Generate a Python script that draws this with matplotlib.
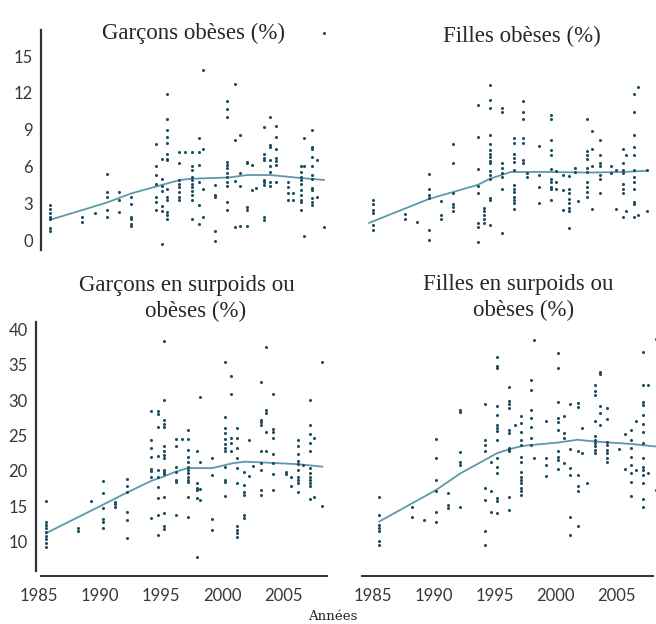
import matplotlib
matplotlib.use('Agg')
import matplotlib.pyplot as plt
from matplotlib.transforms import ScaledTranslation

W, H = 656, 624

annees_ticks = [1985, 1990, 1995, 2000, 2005]

# garcons obeses : (annee, valeurs de la colonne)
go_points = [
    (1985.35, [2.85, 2.5, 2.2, 1.9, 1.7, 1.0, 0.75]),
    (1988, [1.85, 1.5]),
    (1989, [2.2]),
    (1990, [5.4, 3.9, 3.5, 2.45, 1.85]),
    (1991, [3.9, 3.25, 2.3]),
    (1992, [3.5, 2.9, 1.9, 1.75, 1.3, 1.15]),
    (1994, [7.8, 6.0, 5.3, 4.6, 3.5, 3.1, 2.45]),
    (1994.5, [6.6, 5.0, 4.4, 4.0, 2.8, 2.4, -0.3]),
    (1994.95, [11.9, 9.85, 9.0, 8.4, 7.9, 7.0, 6.6, 6.5, 4.2, 3.5, 3.25, 2.3, 2.05, 1.7]),
    (1995.95, [7.2, 6.25, 4.9, 4.6, 4.3, 3.9, 3.5, 3.25]),
    (1996.4, [7.2]),
    (1997, [7.2, 6.0, 5.7, 5.15, 4.9, 4.6, 4.35, 4.0, 3.65, 3.25, 1.7]),
    (1997.6, [8.3, 7.2, 6.1, 4.75, 2.85, 1.3]),
    (1997.9, [13.9, 7.45, 4.2, 1.9]),
    (1998.9, [4.5, 3.65, 3.5, 0.7, -0.05]),
    (1999.9, [11.35, 10.65, 10.0, 6.4, 6.1, 5.85, 5.45, 5.15, 4.7, 4.4, 3.1, 2.45]),
    (2000.5, [12.7, 8.15, 4.85, 1.1]),
    (2000.9, [8.6, 5.45, 4.4, 1.15]),
    (2001.5, [6.4, 6.25, 2.7, 2.45, 1.15]),
    (2001.9, [6.1, 4.1]),
    (2002.2, [4.25]),
    (2002.9, [9.25, 7.05, 6.65, 6.5, 4.9, 4.7, 4.5, 1.9, 1.65]),
    (2003.4, [10.0, 7.75, 7.6, 6.5, 6.0, 5.55, 4.75, 4.4]),
    (2003.9, [9.3, 8.4, 7.45, 6.65, 6.45, 6.1, 4.7]),
    (2004.9, [4.75, 4.3, 3.85, 3.25]),
    (2005.3, [3.85, 3.25]),
    (2005.9, [6.05, 5.55, 5.15, 4.9, 4.55, 4.1, 3.65, 3.25, 3.1, 2.45]),
    (2006.2, [8.3, 6.05, 0.35]),
    (2006.8, [9.0, 7.6, 7.45, 6.75, 6.05, 5.3, 5.0, 4.25, 4.1, 3.4, 3.1, 2.85]),
    (2007.2, [6.5, 3.5]),
    (2007.8, [16.85, 1.05]),
]
go_ligne_x = [1985.35, 1990, 1992, 1996, 1997, 2000, 2001.5, 2003.4, 2006, 2007.8]
go_ligne_y = [1.65, 3.05, 3.8, 4.9, 5.0, 5.1, 5.3, 5.3, 5.05, 4.9]

# filles obeses
fo_points = [
    (1985.4, [3.3, 2.95, 2.45, 2.2, 1.2, 0.85]),
    (1988, [2.1, 1.7]),
    (1989, [1.5]),
    (1990, [5.4, 4.2, 3.65, 3.4, 0.85, 0.0]),
    (1991, [3.2, 2.05, 1.75]),
    (1992, [7.8, 6.3, 3.85, 2.95, 2.7, 2.4]),
    (1994, [11.0, 8.4, 5.8, 4.4, 3.8, 1.4, 1.1, -0.15]),
    (1994.5, [2.65, 2.4, 2.05, 1.75, 1.4]),
    (1995, [12.6, 11.4, 10.8, 8.55, 7.8, 7.35, 7.05, 6.8, 6.45, 6.3, 5.65, 5.3, 5.0, 3.4, 3.25, 1.2]),
    (1996, [10.8, 10.45, 6.25, 5.85, 5.45, 5.15, 4.15, 0.6]),
    (1997, [8.3, 7.9, 7.05, 6.65, 6.4, 5.7, 4.5, 4.2, 3.95, 3.5, 3.25, 3.0, 2.5]),
    (1997.7, [11.35, 10.4, 9.9, 8.3, 7.9, 6.5, 6.25]),
    (1998, [5.45, 5.15]),
    (1999, [7.7, 5.3, 4.3, 3.05]),
    (2000, [10.2, 9.85, 8.15, 7.35, 6.95, 5.8, 5.0, 4.75, 4.35, 4.2, 3.25]),
    (2000.4, [5.65, 4.7, 4.15]),
    (2001, [5.3, 4.1, 2.45]),
    (2001.5, [5.2, 4.2, 3.8, 3.35, 3.0, 2.65, 2.4, 1.0]),
    (2001.95, [5.9, 5.55]),
    (2002.25, [3.2]),
    (2002.95, [9.9, 7.25, 6.95, 6.6, 5.85, 5.55, 4.75, 4.35, 3.95, 3.5]),
    (2003.35, [8.85, 7.4, 6.05, 2.5]),
    (2004, [8.15, 6.95, 6.25, 6.0, 5.3, 5.0, 3.85]),
    (2004.9, [6.05, 5.45]),
    (2005.35, [5.7, 2.5]),
    (2005.9, [7.4, 6.3, 5.7, 5.45, 4.6, 4.2, 3.85, 1.85]),
    (2006.15, [6.95, 2.4]),
    (2006.8, [11.9, 10.4, 8.55, 7.6, 6.95, 5.7, 5.15, 4.75, 4.2, 3.1, 2.95, 1.85]),
    (2007.15, [12.45, 2.05]),
    (2007.85, [5.7, 2.4]),
]
fo_ligne_x = [1985.1, 1990, 1994, 1995, 1996.7, 2000, 2003, 2006, 2007.9]
fo_ligne_y = [1.4, 3.35, 4.5, 5.0, 5.55, 5.55, 5.5, 5.55, 5.65]

# garcons en surpoids ou obeses
gs_points = [
    (1985.35, [15.7, 12.85, 12.4, 11.9, 11.3, 10.8, 10.35, 9.8, 9.2]),
    (1988, [11.9, 11.5]),
    (1989, [15.8]),
    (1990, [18.6, 16.85, 14.7, 13.15, 12.75, 11.9]),
    (1991, [15.65, 15.3, 14.85]),
    (1992, [18.85, 17.9, 16.95, 14.15, 13.1, 10.5]),
    (1994, [28.5, 24.4, 23.2, 21.9, 20.3, 20.0, 19.2, 13.3]),
    (1994.5, [28.4, 28.0, 26.2, 22.15, 20.15, 19.2, 17.7, 16.15, 13.8, 11.0]),
    (1995, [38.3, 30.0, 27.2, 26.65, 26.2, 23.45, 22.75, 22.25, 21.8, 20.15, 19.9, 19.6, 16.3, 14.0, 12.15, 11.75]),
    (1996, [24.5, 23.45, 20.6, 19.8, 18.75, 18.4, 13.8]),
    (1996.5, [24.5]),
    (1997, [25.8, 24.5, 23.0, 22.0, 21.3, 20.6, 20.15, 19.65, 19.2, 18.75, 18.4, 16.35, 13.55]),
    (1997.7, [22.85, 18.25, 17.55, 17.3, 16.15, 7.9]),
    (1997.95, [30.5, 21.2, 17.4, 15.9]),
    (1999, [21.8, 19.35, 13.15, 11.65]),
    (2000, [35.45, 27.55, 26.0, 25.3, 24.5, 23.8, 23.2, 22.75, 20.6, 18.75, 18.4, 16.5]),
    (2000.5, [33.4, 30.85, 24.6, 23.9, 22.75]),
    (2001, [26.0, 24.6, 23.2, 21.8, 20.4, 18.25, 12.15, 11.65, 11.2, 10.7]),
    (2001.6, [19.9, 18.0, 16.95, 16.6, 13.8, 13.3]),
    (2002, [24.3, 19.3]),
    (2002.35, [20.7]),
    (2003, [32.5, 27.2, 26.85, 26.5, 22.75, 21.1, 20.15, 17.3, 16.6]),
    (2003.4, [37.5, 28.6, 28.15, 25.55, 22.85]),
    (2004, [30.85, 25.9, 25.45, 24.6, 22.4, 21.1, 19.6, 17.3]),
    (2005, [19.9, 19.6]),
    (2005.4, [19.1, 17.9]),
    (2006, [24.3, 23.5, 22.4, 21.45, 20.95, 20.15, 19.2, 18.75, 18.25, 17.0]),
    (2006.4, [20.85]),
    (2007, [29.95, 26.5, 25.25, 23.9, 22.75, 20.4, 19.65, 19.2, 18.75, 18.25, 17.9, 16.05]),
    (2007.35, [24.7, 16.25]),
    (2008, [35.45, 15.05]),
]
gs_ligne_x = [1985.35, 1990, 1992, 1994, 1995, 1996, 1997, 1999, 2000.7, 2001.7, 2003, 2006, 2008]
gs_ligne_y = [11.2, 15.2, 16.95, 18.6, 19.2, 19.9, 20.4, 20.4, 21.1, 21.3, 21.2, 20.95, 20.6]

# filles en surpoids ou obeses
fs_points = [
    (1985.35, [16.35, 13.8, 12.4, 11.9, 11.45, 10.15, 9.55]),
    (1988, [14.85, 13.55]),
    (1989, [13.1]),
    (1990, [24.5, 21.8, 18.65, 17.2, 14.25, 12.75]),
    (1991, [16.85, 15.2, 14.7]),
    (1992, [28.6, 28.25, 22.6, 21.3, 20.85, 14.85]),
    (1994, [29.4, 24.4, 23.7, 22.85, 17.55, 15.9, 11.45, 9.55]),
    (1994.5, [21.3, 17.1, 14.2]),
    (1995, [36.15, 34.75, 34.5, 29.2, 27.9, 26.5, 26.0, 25.7, 24.4, 21.8, 20.6, 19.75, 16.15, 15.8, 14.0]),
    (1996, [31.9, 29.9, 29.4, 28.85, 25.8, 25.4, 23.2, 23.0, 22.75, 16.35, 14.5]),
    (1996.5, [26.5]),
    (1997, [27.7, 26.75, 25.55, 24.4, 23.7, 22.0, 21.3, 19.9, 19.2, 18.65, 18.25, 17.55, 17.1, 16.6]),
    (1997.75, [32.85, 31.45, 28.6, 27.45, 26.25, 24.7, 23.6]),
    (1998, [38.5, 21.8]),
    (1999, [27.05, 21.8, 20.85, 19.3]),
    (2000, [36.7, 34.5, 29.8, 27.45, 26.85, 25.8, 22.75, 22.0, 21.55, 20.3]),
    (2000.5, [27.8, 25.3, 24.6, 21.1]),
    (2001, [29.4, 23.1, 20.4, 19.45, 13.55, 11.0]),
    (2001.6, [29.65, 29.0, 22.75, 19.45, 17.8, 17.2, 12.15]),
    (2002, [26.0, 22.5]),
    (2002.35, [18.25]),
    (2003, [32.15, 31.35, 30.75, 27.0, 24.95, 24.4, 23.9, 23.45, 23.0, 22.5]),
    (2003.4, [34.0, 33.7, 29.1, 28.15, 26.5]),
    (2004, [28.85, 27.3, 24.15, 23.7, 23.0, 22.5, 21.8, 21.2]),
    (2005, [23.1]),
    (2005.45, [25.2, 20.3]),
    (2006, [25.8, 24.4, 23.2, 22.0, 20.85, 19.65, 18.5, 16.45]),
    (2006.4, [27.0, 20.15]),
    (2007, [36.85, 32.15, 29.8, 29.3, 27.9, 26.65, 25.55, 23.9, 21.8, 20.6, 20.15, 19.45, 18.25, 16.0, 14.85]),
    (2007.4, [32.15, 19.65]),
    (2008, [38.65, 17.3]),
]
fs_ligne_x = [1985.35, 1990, 1992, 1994, 1995, 1996, 1997, 1997.75, 2000, 2001.6, 2003, 2006, 2008]
fs_ligne_y = [12.85, 17.3, 19.65, 21.55, 22.5, 23.05, 23.5, 23.65, 24.0, 24.4, 24.15, 23.8, 23.45]

ticks_haut = [0, 3, 6, 9, 12, 15]
ticks_bas = [10, 15, 20, 25, 30, 35, 40]

plt.rcParams['font.family'] = ['Lato', 'DejaVu Sans']
fig = plt.figure(figsize=(W / 100, H / 100), dpi=100)

GRIS = '#2f3336'
POINT = '#1c4c5e'
LIGNE = '#5f97ab'


def panneau(box, xlim, ylim, points, lx, ly, yticks=None, xticks=False, x_bornes=None):
    # box en pixels : gauche, haut, droite, bas
    g, h, d, b = box
    ax = fig.add_axes([g / W, 1 - b / H, (d - g) / W, (b - h) / H])
    ax.set_xlim(xlim)
    ax.set_ylim(ylim)
    ax.patch.set_alpha(0)
    for s in ax.spines.values():
        s.set_visible(False)
    ax.plot(lx, ly, color=LIGNE, lw=1.3, zorder=2, clip_on=False)
    for an, vals in points:
        ax.plot([an] * len(vals), vals, ls='none', marker='o', ms=2.2, mew=0,
                color=POINT, zorder=3, clip_on=False)
    ax.tick_params(length=0, labelsize=12, colors='#33383b')
    if yticks:
        ax.spines['left'].set_visible(True)
        ax.spines['left'].set_color(GRIS)
        ax.spines['left'].set_linewidth(1.6)
        ax.set_yticks(yticks)
        ax.tick_params(axis='y', pad=6)
    else:
        ax.set_yticks([])
    if xticks:
        ax.spines['bottom'].set_visible(True)
        ax.spines['bottom'].set_color(GRIS)
        ax.spines['bottom'].set_linewidth(1.4)
        ax.spines['bottom'].set_position(('outward', 3.4))
        if x_bornes:
            ax.spines['bottom'].set_bounds(*x_bornes)
        ax.set_xticks(annees_ticks)
        ax.tick_params(axis='x', pad=9)
        # les etiquettes sont un peu a gauche des annees dans l'original
        decal = ScaledTranslation(-2.5 / 100, 0, fig.dpi_scale_trans)
        for lab in ax.get_xticklabels():
            lab.set_transform(lab.get_transform() + decal)
    else:
        ax.set_xticks([])
    return ax


panneau((41, 30, 328, 250), (1984.61, 2008.14), (-0.81, 17.12), go_points, go_ligne_x, go_ligne_y, yticks=ticks_haut)
panneau((361, 30, 650, 250), (1984.43, 2008.11), (-0.81, 17.12), fo_points, fo_ligne_x, fo_ligne_y)
panneau((36, 322, 327, 571), (1984.53, 2008.39), (5.86, 41.03), gs_points, gs_ligne_x, gs_ligne_y,
        yticks=ticks_bas, xticks=True, x_bornes=(1984.92, 2008.39))
panneau((362, 322, 656, 571), (1983.93, 2008.03), (5.86, 41.03), fs_points, fs_ligne_x, fs_ligne_y,
        xticks=True, x_bornes=(1983.93, 2007.8))

# titres en pixels, deux lignes decalees comme dans l'original
titres = [
    ('Garçons obèses (%)', 193, 33),
    ('Filles obèses (%)', 522, 36),
    ('Garçons en surpoids ou', 187, 286),
    ('obèses (%)', 196, 311),
    ('Filles en surpoids ou', 518, 285),
    ('obèses (%)', 524, 310),
]
for txt, x, y in titres:
    fig.text(x / W, 1 - y / H, txt, family='Liberation Serif', fontsize=16.5,
             color='#22282b', ha='center', va='center')
fig.text(332.5 / W, 1 - 620.5 / H, 'Années', family='DejaVu Serif', fontsize=9.6,
         color='#222222', ha='center', va='baseline')

fig.savefig('out.png', dpi=100)
